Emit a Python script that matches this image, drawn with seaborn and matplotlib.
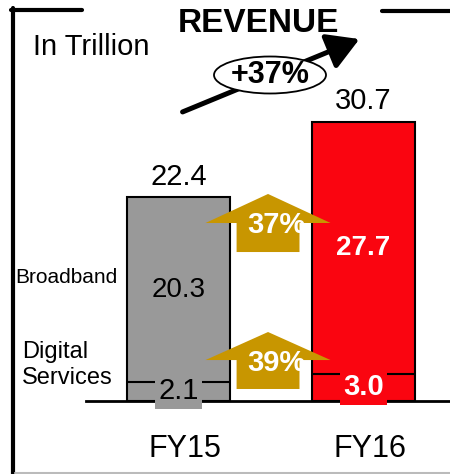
import matplotlib
matplotlib.use('Agg')
import matplotlib.pyplot as plt
import matplotlib.transforms as mtransforms
from matplotlib.patches import Ellipse, Polygon, FancyArrowPatch
from matplotlib.lines import Line2D
import seaborn as sns

# data (INR trillion)
years = ['FY15', 'FY16']
digital = [2.1, 3.0]
broadband = [20.3, 27.7]
totals = [22.4, 30.7]
growth_broadband = '37%'
growth_digital = '39%'
growth_total = '+37%'

GRAY = '#999999'
RED = '#FA0510'
GOLD = '#C89600'
BAR_W = 0.557

sns.set_style('white')
plt.rcParams['font.family'] = ['Liberation Sans', 'DejaVu Sans']
plt.rcParams['text.color'] = 'black'
plt.rcParams['xtick.color'] = 'black'

fig = plt.figure(figsize=(4.5, 4.74), dpi=100)
W, H = 450, 474


def fx(x):
    return x / W


def fy(y):
    return 1 - y / H


ax = fig.add_axes([fx(86), 73 / H, 364 / W, 401 / H])
sns.barplot(x=years, y=totals, hue=years, palette=[GRAY, RED], width=BAR_W,
            saturation=1, edgecolor='black', linewidth=1.5, legend=False,
            ax=ax, zorder=2)
ax.set_xlim(-0.5, -0.5 + 364 / 185)
ax.set_ylim(0, 401 / 9.1)

# split line between digital services and broadband
for i, d in enumerate(digital):
    ax.hlines(d, i - BAR_W / 2, i + BAR_W / 2, color='black', lw=1.5, zorder=3)

# totals above bars
for i, t in enumerate(totals):
    ax.annotate(f'{t:.1f}', (i, t), xytext=(0, 9), textcoords='offset points',
                ha='center', va='baseline', fontsize=21)

# segment labels
ax.text(0, digital[0] + broadband[0] / 2, f'{broadband[0]:.1f}', ha='center',
        va='center', fontsize=20, zorder=4)
ax.text(1, digital[1] + broadband[1] / 2, f'{broadband[1]:.1f}', ha='center',
        va='center', fontsize=20, fontweight='bold', color='white', zorder=4)
ax.text(0, digital[0] / 2, f'{digital[0]:.1f}', ha='center', va='center',
        fontsize=21, zorder=4,
        bbox=dict(boxstyle='square,pad=0.12', fc=GRAY, ec='none'))
ax.text(1, digital[1] / 2, f'{digital[1]:.1f}', ha='center', va='center',
        fontsize=21, fontweight='bold', color='white', zorder=4,
        bbox=dict(boxstyle='square,pad=0.12', fc=RED, ec='none'))


# gold growth arrows between the bars
def growth_arrow(tip, wing, bottom, label, ly):
    cx, hw, sw = 0.484, 0.338, 0.170
    pts = [(cx, tip), (cx + hw, wing), (cx + sw, wing), (cx + sw, bottom),
           (cx - sw, bottom), (cx - sw, wing), (cx - hw, wing)]
    ax.add_patch(Polygon(pts, closed=True, fc=GOLD, ec='none', zorder=5))
    ax.text(0.53, ly, label, ha='center', va='center', fontsize=21,
            fontweight='bold', color='white', zorder=6)


growth_arrow(22.75, 19.56, 16.37, growth_broadband, 19.3)
growth_arrow(7.58, 4.5, 1.32, growth_digital, 4.2)

# axis styling
for s in ['top', 'right', 'left']:
    ax.spines[s].set_visible(False)
ax.spines['bottom'].set_linewidth(2)
ax.spines['bottom'].set_color('black')
ax.set_yticks([])
ax.set_ylabel('')
ax.tick_params(axis='x', length=0, pad=24, labelsize=22, labelcolor='black')
offset = mtransforms.ScaledTranslation(6 / 100, 0, fig.dpi_scale_trans)
for lab in ax.get_xticklabels():
    lab.set_transform(lab.get_transform() + offset)

# frame pieces
fig.add_artist(Line2D([fx(13), fx(13)], [fy(8), fy(474)], color='black', lw=3))
fig.add_artist(Line2D([fx(11), fx(82)], [fy(9.5), fy(9.5)], color='black', lw=3))
fig.add_artist(Line2D([fx(382), fx(450)], [fy(10.5), fy(10.5)], color='black', lw=3))
fig.add_artist(Line2D([fx(15), fx(450)], [fy(472.5), fy(472.5)], color='#BBBBBB', lw=1.5))

# titles and side labels
fig.text(fx(33), fy(47), 'In Trillion', ha='left', va='center', fontsize=21)
fig.text(fx(258), fy(23), 'REVENUE', ha='center', va='center', fontsize=24,
         fontweight='bold')
fig.text(fx(15), fy(283), 'Broadband', ha='left', va='baseline', fontsize=15)
fig.text(fx(22), fy(358), 'Digital', ha='left', va='baseline', fontsize=17)
fig.text(fx(22), fy(384), 'Services', ha='left', va='baseline', fontsize=17)

# overall growth arrow with ellipse
fig.add_artist(FancyArrowPatch(
    (fx(180), fy(113)), (fx(362), fy(38)), transform=fig.transFigure,
    arrowstyle='-|>,head_length=12,head_width=7', mutation_scale=1.6,
    lw=3.6, color='black'))
fig.add_artist(Ellipse((fx(270), fy(75)), fx(112), 37 / H,
                       transform=fig.transFigure, fc='white', ec='black', lw=1.3))
fig.text(fx(270), fy(75), growth_total, ha='center', va='center', fontsize=22,
         fontweight='bold')

fig.savefig('out.png', dpi=100)
